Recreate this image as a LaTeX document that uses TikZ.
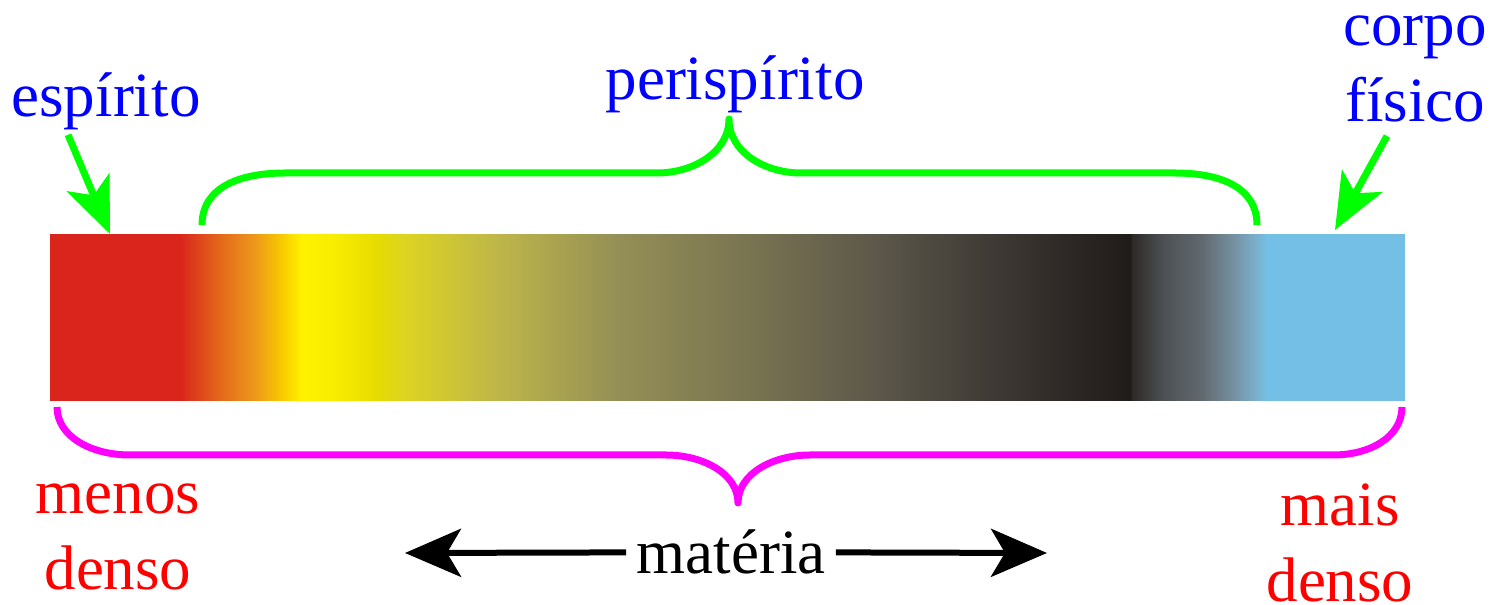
\documentclass[tikz,border=0pt]{standalone}
\usepackage{fontspec}
\setmainfont{Liberation Serif}
\usetikzlibrary{arrows.meta}

\definecolor{xanhLa}{HTML}{00FF00}
\definecolor{hongTim}{HTML}{FF00FF}
\definecolor{xanhChu}{HTML}{0000FF}
\definecolor{doChu}{HTML}{FF0000}
\definecolor{doThanh}{HTML}{D9251C}
\definecolor{xanhThanh}{HTML}{73BFE5}
\definecolor{cA}{HTML}{DA2A1C}
\definecolor{cB}{HTML}{E36A1A}
\definecolor{cC}{HTML}{EC951C}
\definecolor{cD}{HTML}{F7C800}
\definecolor{cE}{HTML}{FFF200}
\definecolor{cF}{HTML}{F8ED00}
\definecolor{cG}{HTML}{E6DC00}
\definecolor{cH}{HTML}{DDD520}
\definecolor{cI}{HTML}{BDB54A}
\definecolor{cJ}{HTML}{959056}
\definecolor{cK}{HTML}{7C7752}
\definecolor{cL}{HTML}{5C574A}
\definecolor{cM}{HTML}{433E38}
\definecolor{cN}{HTML}{2D2825}
\definecolor{cO}{HTML}{201C19}
\definecolor{cP}{HTML}{2E2B28}
\definecolor{cQ}{HTML}{4D5155}
\definecolor{cR}{HTML}{61696E}
\definecolor{cS}{HTML}{7590A0}
\definecolor{cT}{HTML}{7AB0CC}

% Dải màu của thanh
\pgfdeclarehorizontalshading{daiMau}{100bp}{%
  color(0bp)=(doThanh); color(29.8bp)=(doThanh); color(29.9bp)=(cA);
  color(31.3bp)=(cB); color(32.5bp)=(cC); color(33.5bp)=(cD);
  color(34.3bp)=(cE); color(35.5bp)=(cF); color(37bp)=(cG);
  color(38bp)=(cH); color(41.6bp)=(cI); color(45.85bp)=(cJ);
  color(50.3bp)=(cK); color(55.55bp)=(cL); color(59.1bp)=(cM);
  color(62.6bp)=(cN); color(64.85bp)=(cO); color(64.95bp)=(cP);
  color(66.1bp)=(cQ); color(67.5bp)=(cR); color(68.65bp)=(cS);
  color(69.5bp)=(cT); color(69.9bp)=(xanhThanh); color(100bp)=(xanhThanh)}

\begin{document}
\begin{tikzpicture}[x=0.5pt, y=0.5pt,
    nhan/.style={font=\fontsize{31.5pt}{38pt}\selectfont, inner sep=2pt, align=center},
    ngoac/.style={line width=3.5pt, line join=round},
    chiXanh/.style={-{Stealth[length=28pt, width=23pt, inset=7pt]}, line width=3.5pt, xanhLa},
    chiDen/.style={-{Stealth[length=28pt, width=24pt, inset=7pt]}, line width=3pt, black}]
    \useasboundingbox (0, 0) rectangle (1496, 605);

    % Thanh màu
    \shade[shading=daiMau] (50, 204) rectangle (1405, 370);

    % Nhãn
    \node[nhan, text=xanhChu, anchor=base] (esp) at (106, 488) {espírito};
    \node[nhan, text=xanhChu, anchor=base] (peri) at (735, 505) {perispírito};
    \node[nhan, text=xanhChu, anchor=base] (corpo) at (1415, 483) {corpo\\físico};
    \node[nhan, text=doChu, anchor=base] (menos) at (118, 15) {menos\\denso};
    \node[nhan, text=doChu, anchor=base] (mais) at (1340, 3) {mais\\denso};
    \node[nhan, text=black, anchor=base, inner sep=5pt] (mat) at (731, 31) {matéria};

    % Điểm đầu mũi tên
    \coordinate (espTip) at (110, 371);
    \coordinate (corpoTip) at (1335, 375);
    \coordinate (matTrai) at (405, 52);
    \coordinate (matPhai) at (1047, 52);

    % Ngoặc trên
    \draw[ngoac, xanhLa] (202, 380) .. controls (202, 418) and (240, 432) .. (285, 432)
        -- (657, 432) .. controls (692, 432) and (729, 452) .. (729, 486)
        .. controls (729, 452) and (766, 432) .. (801, 432)
        -- (1175, 432) .. controls (1220, 432) and (1257, 418) .. (1257, 380);

    % Ngoặc dưới
    \draw[ngoac, hongTim] (57, 198) .. controls (57, 168) and (92, 150) .. (130, 150)
        -- (666, 150) .. controls (702, 150) and (738, 132) .. (738, 102)
        .. controls (738, 132) and (774, 150) .. (810, 150)
        -- (1333, 150) .. controls (1370, 150) and (1402, 168) .. (1402, 198);

    % Mũi tên
    \draw[chiXanh] ([shift={(-38, 0)}]esp.south) -- (espTip);
    \draw[chiXanh] ([shift={(-28, -9)}]corpo.south) -- (corpoTip);
    \draw[chiDen] (mat.west) -- (matTrai);
    \draw[chiDen] (mat.east) -- (matPhai);
\end{tikzpicture}
\end{document}
